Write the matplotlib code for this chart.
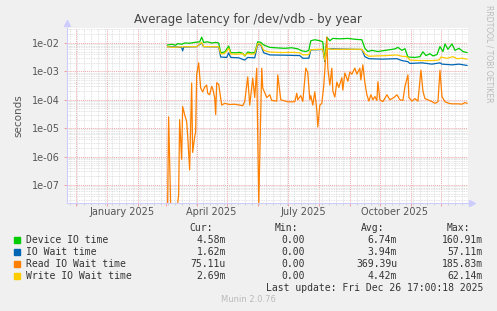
import numpy as np
import pandas as pd
import matplotlib
matplotlib.use("Agg")
import matplotlib.pyplot as plt
import matplotlib.dates as mdates
from matplotlib.patches import Rectangle
from matplotlib.ticker import FuncFormatter, LogLocator

# days since 2025-01-01, values in seconds
device_days = [61, 65, 69, 71, 75, 78, 83, 88, 93, 95, 97, 101, 105, 109, 112, 114, 118, 122, 124,
               129, 133, 136, 138, 141, 145, 148, 151, 154, 157, 163, 171, 178, 185, 191, 195, 199,
               202, 204, 208, 213, 216, 218, 220, 223, 226, 233, 241, 248, 255, 258, 261, 265, 271,
               277, 283, 288, 291, 295, 298, 301, 308, 313, 316, 319, 323, 326, 330, 333, 336, 338,
               341, 345, 348, 352, 356, 360]
device_io = [8.5e-3, 9.0e-3, 8.3e-3, 9.5e-3, 9.0e-3, 1.0e-2, 9.8e-3, 1.05e-2, 1.1e-2, 1.6e-2,
             1.05e-2, 1.1e-2, 1.0e-2, 1.05e-2, 1.0e-2, 4.6e-3, 4.8e-3, 7.8e-3, 4.6e-3, 4.5e-3,
             4.7e-3, 4.3e-3, 3.5e-3, 4.8e-3, 4.5e-3, 4.6e-3, 1.1e-2, 1.05e-2, 8.5e-3, 7.0e-3,
             6.7e-3, 6.5e-3, 6.8e-3, 6.2e-3, 5.3e-3, 5.0e-3, 5.5e-3, 1.2e-2, 1.3e-2, 1.2e-2,
             1.1e-2, 2.2e-3, 1.6e-2, 1.2e-2, 1.45e-2, 1.4e-2, 1.45e-2, 1.35e-2, 1.3e-2, 6.5e-3,
             5.0e-3, 5.5e-3, 5.0e-3, 5.4e-3, 5.8e-3, 6.2e-3, 7.0e-3, 5.5e-3, 6.3e-3, 3.2e-3,
             3.1e-3, 3.3e-3, 4.9e-3, 3.6e-3, 4.2e-3, 3.5e-3, 3.9e-3, 7.5e-3, 5.0e-3, 9.2e-3,
             6.0e-3, 9.3e-3, 5.5e-3, 6.5e-3, 5.0e-3, 4.6e-3]

wait_days = [61, 70, 75, 76, 77, 90, 95, 97, 112, 114, 120, 122, 124, 132, 138, 141, 148, 151, 154,
             157, 163, 180, 193, 196, 202, 204, 216, 218, 220, 255, 258, 262, 275, 290, 295, 301,
             303, 315, 325, 333, 335, 345, 352, 360]
io_wait = [7.4e-3, 7.2e-3, 7.0e-3, 5.3e-3, 7.2e-3, 7.4e-3, 1.0e-2, 7.4e-3, 7.3e-3, 3.2e-3,
           3.1e-3, 4.5e-3, 3.1e-3, 3.0e-3, 2.5e-3, 3.1e-3, 3.0e-3, 9.0e-3, 8.5e-3, 4.5e-3,
           3.8e-3, 3.7e-3, 3.6e-3, 2.9e-3, 2.9e-3, 5.7e-3, 5.9e-3, 2.3e-3, 6.3e-3, 5.9e-3,
           3.3e-3, 2.8e-3, 2.7e-3, 2.8e-3, 2.4e-3, 2.2e-3, 1.9e-3, 2.0e-3, 1.8e-3, 2.0e-3,
           1.8e-3, 1.7e-3, 1.8e-3, 1.62e-3]

read_days = [61, 62, 64, 71, 72, 73, 75, 76, 78, 80, 81, 83, 85, 86, 88, 89, 90, 92, 94, 96, 98,
             100, 101, 103, 105, 106, 108, 109, 110, 112, 115, 118, 123, 128, 133, 136, 138, 141,
             143, 146, 148, 150, 152, 155, 156, 160, 163, 165, 170, 171, 174, 181, 188, 190, 191,
             194, 196, 199, 201, 203, 204, 206, 208, 210, 211, 213, 215, 217, 219, 220, 221, 223,
             225, 226, 228, 230, 232, 235, 236, 238, 241, 243, 245, 248, 250, 253, 254, 256, 258,
             260, 262, 264, 266, 268, 270, 271, 273, 276, 280, 283, 287, 290, 293, 296, 298, 301,
             302, 305, 308, 311, 314, 316, 318, 321, 325, 328, 331, 333, 335, 338, 342, 345, 351,
             355, 358, 360]
read_io = [0, 2.5e-5, 0, 0, 4.5e-8, 2.0e-5, 8e-7, 5.8e-5, 3e-5, 1.7e-5, 5.7e-6, 3.4e-7, 3.9e-4,
           1.4e-6, 4.9e-6, 7.4e-6, 7.5e-4, 2.0e-3, 2.6e-4, 1.9e-4, 2.8e-4, 3.3e-4, 1.7e-4, 1.5e-4,
           3.0e-4, 2.5e-4, 1.2e-4, 3e-5, 4.0e-4, 3.5e-4, 6.5e-5, 7.5e-5, 6.8e-5, 7.0e-5, 6.5e-5,
           6.2e-5, 8.6e-5, 6.4e-4, 6.5e-5, 5.8e-4, 1.2e-4, 1.3e-3, 0, 1.3e-3, 2.6e-4, 1.2e-4,
           1.5e-4, 9.5e-5, 9.0e-5, 7.5e-4, 1.0e-4, 8.5e-5, 8.5e-5, 1.7e-4, 1.0e-4, 1.4e-4, 8.8e-5,
           1.3e-3, 9e-4, 1.0e-4, 1.4e-4, 6.5e-5, 1.9e-4, 4.3e-5, 1.1e-5, 6.5e-5, 7.5e-5, 3.3e-4,
           3.8e-3, 1.6e-2, 1.3e-3, 3.3e-4, 1.3e-3, 2.0e-4, 1.25e-4, 4.2e-4, 2.7e-4, 6.0e-4,
           2.2e-4, 8.8e-4, 4.5e-4, 9.5e-4, 8.0e-4, 1.3e-3, 8e-4, 1.3e-3, 5e-4, 1.7e-3, 4e-4,
           1.5e-4, 9e-5, 1.5e-4, 1.0e-4, 1.3e-4, 9.5e-5, 4.3e-4, 1.0e-4, 8.6e-5, 1.5e-4, 1.0e-4,
           1.2e-4, 1.5e-4, 1.0e-4, 9.5e-5, 2.9e-4, 7.5e-4, 1.2e-4, 9.0e-5, 1.1e-4, 9.0e-5, 1.1e-3,
           2e-4, 1.1e-4, 1.0e-4, 8.6e-5, 7.5e-5, 8.5e-5, 1.1e-3, 1.3e-4, 8.5e-5, 7.5e-5, 7.2e-5,
           7.2e-5, 7.0e-5, 8.0e-5, 7.5e-5]

write_days = [61, 66, 71, 76, 83, 90, 95, 97, 105, 112, 114, 118, 122, 124, 130, 136, 138, 141,
              145, 148, 151, 154, 157, 163, 175, 185, 193, 196, 202, 204, 212, 216, 218, 220, 225,
              240, 255, 258, 262, 270, 280, 290, 295, 300, 303, 315, 325, 332, 334, 340, 346, 350,
              355, 360]
write_io = [7.4e-3, 7.0e-3, 7.2e-3, 7.3e-3, 7.4e-3, 7.4e-3, 1.05e-2, 7.5e-3, 7.4e-3, 7.4e-3,
            4.1e-3, 4.3e-3, 6.5e-3, 4.1e-3, 4.0e-3, 4.2e-3, 3.6e-3, 4.3e-3, 4.0e-3, 4.2e-3,
            9.5e-3, 9.0e-3, 5.5e-3, 4.8e-3, 4.6e-3, 4.7e-3, 4.5e-3, 3.8e-3, 3.9e-3, 5.8e-3,
            6.0e-3, 6.0e-3, 2.5e-3, 6.5e-3, 6.0e-3, 6.0e-3, 6.0e-3, 4.2e-3, 3.4e-3, 3.5e-3,
            3.6e-3, 3.8e-3, 3.4e-3, 3.3e-3, 2.5e-3, 2.4e-3, 2.4e-3, 2.5e-3, 3.2e-3, 2.9e-3,
            3.3e-3, 2.8e-3, 2.9e-3, 2.7e-3]

series_names = ["Device IO time", "IO Wait time", "Read IO Wait time", "Write IO Wait time"]
series_colors = ["#00CC00", "#0066B3", "#FF8000", "#FFCC00"]
cur_vals = ["4.58m", "1.62m", "75.11u", "2.69m"]
min_vals = ["0.00", "0.00", "0.00", "0.00"]
avg_vals = ["6.74m", "3.94m", "369.39u", "4.42m"]
max_vals = ["160.91m", "57.11m", "185.83m", "62.14m"]
y_decades = [1e-7, 1e-6, 1e-5, 1e-4, 1e-3, 1e-2]

W, H = 497, 311
base = pd.Timestamp("2025-01-01")


def to_dates(days):
    return base + pd.to_timedelta(np.array(days, dtype=float), unit="D")


fig = plt.figure(figsize=(W / 100, H / 100), dpi=100, facecolor="#F0F0F0")
ax = fig.add_axes([67 / W, 1 - 203 / H, 401 / W, 175 / H])
ax.set_facecolor("white")
ax.set_yscale("log")
ymin, ymax = 2.32e-8, 3.37e-2
ax.set_ylim(ymin, ymax)
ax.set_xlim(pd.Timestamp("2024-11-22 12:00"), pd.Timestamp("2025-12-28 00:00"))

# grid
ax.set_yticks(y_decades)
ax.yaxis.set_minor_locator(LogLocator(base=10, subs=np.arange(2, 10), numticks=20))
ax.yaxis.set_major_formatter(FuncFormatter(lambda v, p: f"{v:.0e}"))
ax.yaxis.set_minor_formatter(plt.NullFormatter())
ax.set_ylim(ymin, ymax)
ax.xaxis.set_major_locator(mdates.MonthLocator())
ax.xaxis.set_minor_locator(mdates.WeekdayLocator(byweekday=mdates.MO))
ax.xaxis.set_major_formatter(plt.NullFormatter())
ax.grid(which="major", color="#F0A8A8", linestyle=(0, (1, 1)), linewidth=0.7)
ax.grid(which="minor", color="#D8D8D8", linestyle=(0, (1, 1)), linewidth=0.6)
ax.set_axisbelow(True)

ax.tick_params(axis="both", which="major", length=2, width=0.7, color="#F0A0A0",
               labelsize=7, labelcolor="#555555", pad=3)
ax.tick_params(axis="both", which="minor", length=1.5, width=0.6, color="#CCCCCC")
ax.tick_params(axis="y", which="minor", length=0)

for s in ["top", "right"]:
    ax.spines[s].set_visible(False)
for s in ["left", "bottom"]:
    ax.spines[s].set_color("#CCCCFF")
    ax.spines[s].set_linewidth(0.8)
ax.plot([0], [1.03], marker="^", color="#CCCCFF", markersize=4, transform=ax.transAxes, clip_on=False)
ax.plot([1.01], [0], marker=">", color="#CCCCFF", markersize=4, transform=ax.transAxes, clip_on=False)

lw = 0.9
ax.plot(to_dates(device_days), device_io, color=series_colors[0], lw=lw)
ax.plot(to_dates(wait_days), io_wait, color=series_colors[1], lw=lw)
ax.plot(to_dates(read_days), np.clip(read_io, ymin * 0.95, None), color=series_colors[2], lw=lw)
ax.plot(to_dates(write_days), write_io, color=series_colors[3], lw=lw)

# quarter labels at mid-month
for m, lab in [("2025-01-16", "January 2025"), ("2025-04-16", "April 2025"),
               ("2025-07-16", "July 2025"), ("2025-10-16", "October 2025")]:
    ax.text(pd.Timestamp(m), -0.05, lab, transform=ax.get_xaxis_transform(),
            ha="center", va="center", fontsize=7, color="#555555")

ax.set_ylabel("seconds", fontsize=7.5, color="#555555", labelpad=6)


def ftext(x, y, s, **kw):
    fig.text(x / W, 1 - y / H, s, **kw)


ftext(248, 19, "Average latency for /dev/vdb - by year", ha="center", va="center",
      fontsize=8.5, color="#444444")
ftext(489, 5, "RRDTOOL / TOBI OETIKER", ha="center", va="top", rotation=-90,
      fontsize=5.5, color="#BBBBBB")

mono = dict(family="DejaVu Sans Mono", fontsize=7.0, color="#333333", va="center")
ftext(213, 228, "Cur:", ha="right", **mono)
ftext(298, 228, "Min:", ha="right", **mono)
ftext(384, 228, "Avg:", ha="right", **mono)
ftext(470, 228, "Max:", ha="right", **mono)
rows_y = [240, 252, 264, 276]
for i, y in enumerate(rows_y):
    fig.patches.append(Rectangle((14 / W, 1 - (y + 2.8) / H), 5.5 / W, 5.5 / H,
                                 transform=fig.transFigure, color=series_colors[i]))
    ftext(26, y, series_names[i], ha="left", **mono)
    ftext(226, y, cur_vals[i], ha="right", **mono)
    ftext(305, y, min_vals[i], ha="right", **mono)
    ftext(397, y, avg_vals[i], ha="right", **mono)
    ftext(483, y, max_vals[i], ha="right", **mono)
ftext(483, 288, "Last update: Fri Dec 26 17:00:18 2025", ha="right", **mono)
ftext(248, 300, "Munin 2.0.76", ha="center", va="center", fontsize=6, color="#BBBBBB")

fig.savefig("out.png", dpi=100, facecolor=fig.get_facecolor())
